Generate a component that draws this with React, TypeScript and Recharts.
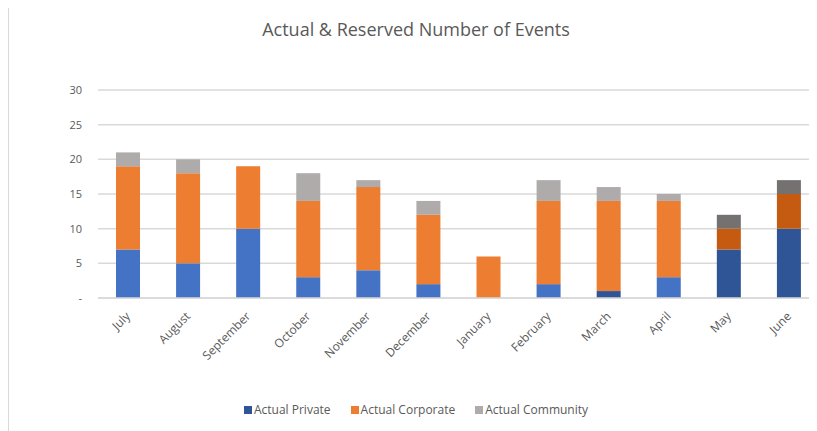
import React from 'react';
import { BarChart, Bar, XAxis, YAxis, CartesianGrid, Cell } from 'recharts';

const months = ['July', 'August', 'September', 'October', 'November', 'December', 'January', 'February', 'March', 'April', 'May', 'June'];
const actualPrivate = [7, 5, 10, 3, 4, 2, 0, 2, 1, 3, 7, 10];
const actualCorporate = [12, 13, 9, 11, 12, 10, 6, 12, 13, 11, 3, 5];
const actualCommunity = [2, 2, 0, 4, 1, 2, 0, 3, 2, 1, 2, 2];
const darkPrivateMonths = ['March', 'May', 'June'];
const reservedMonths = ['May', 'June'];
const yTicks = [0, 5, 10, 15, 20, 25, 30];
const seriesNames = ['Actual Private', 'Actual Corporate', 'Actual Community'];

const data = months.map((m, i) => ({
  month: m,
  priv: actualPrivate[i],
  corp: actualCorporate[i],
  comm: actualCommunity[i],
}));

const FONT = '"Open Sans", "Liberation Sans", sans-serif';
const TEXT = '#595959';
const legendColors = ['#2F5597', '#ED7D31', '#AFABAB'];

const XTick = (props: any) => {
  const { x, y, payload } = props;
  return (
    <g transform={`translate(${x},${y + 8})`}>
      <text transform="rotate(-45)" textAnchor="end" dy="0.35em" fill={TEXT} fontSize={12} fontFamily={FONT}>
        {payload.value}
      </text>
    </g>
  );
};

export default function App() {
  return (
    <div style={{ position: 'relative', top: -4, width: 809, height: 427, overflow: 'hidden' }}>
      <div style={{ position: 'absolute', left: 0, top: 0, width: 816, height: 440, border: '1px solid #d9d9d9', boxSizing: 'border-box', background: '#fff' }} />
      <div style={{ position: 'absolute', left: 0, top: 13, width: 816, textAlign: 'center', fontFamily: FONT, fontSize: 18, lineHeight: '24px', color: TEXT }}>
        Actual &amp; Reserved Number of Events
      </div>
      <div style={{ position: 'absolute', left: 0, top: 0 }}>
        <BarChart width={816} height={440} data={data} margin={{ top: 86, right: 5, left: 30, bottom: 86 }} barSize={24}>
          <CartesianGrid vertical={false} stroke="#d9d9d9" strokeWidth={1.5} />
          <XAxis dataKey="month" axisLine={{ stroke: '#d9d9d9', strokeWidth: 1.5 }} tickLine={false} interval={0} tick={<XTick />} height={60} />
          <YAxis width={60} domain={[0, 30]} ticks={yTicks} axisLine={false} tickLine={false} tickMargin={10}
            tickFormatter={(v: number) => (v === 0 ? '-' : String(v))}
            tick={{ fill: TEXT, fontSize: 11, fontFamily: FONT }} />
          <Bar dataKey="priv" name={seriesNames[0]} stackId="a" fill="#2F5597" isAnimationActive={false}>
            {data.map((d) => (
              <Cell key={d.month} fill={darkPrivateMonths.includes(d.month) ? '#2F5597' : '#4472C4'} />
            ))}
          </Bar>
          <Bar dataKey="corp" name={seriesNames[1]} stackId="a" fill="#ED7D31" isAnimationActive={false}>
            {data.map((d) => (
              <Cell key={d.month} fill={reservedMonths.includes(d.month) ? '#C55A11' : '#ED7D31'} />
            ))}
          </Bar>
          <Bar dataKey="comm" name={seriesNames[2]} stackId="a" fill="#AFABAB" isAnimationActive={false}>
            {data.map((d) => (
              <Cell key={d.month} fill={reservedMonths.includes(d.month) ? '#767171' : '#AFABAB'} />
            ))}
          </Bar>
        </BarChart>
      </div>
      <div style={{ position: 'absolute', left: 0, top: 397, width: 816, display: 'flex', justifyContent: 'center', gap: 20, fontFamily: FONT, fontSize: 12, lineHeight: '18px', color: TEXT }}>
        {seriesNames.map((n, i) => (
          <div key={n} style={{ display: 'flex', alignItems: 'center' }}>
            <span style={{ display: 'inline-block', width: 8, height: 8, background: legendColors[i], marginRight: 2 }} />
            <span>{n}</span>
          </div>
        ))}
      </div>
    </div>
  );
}
